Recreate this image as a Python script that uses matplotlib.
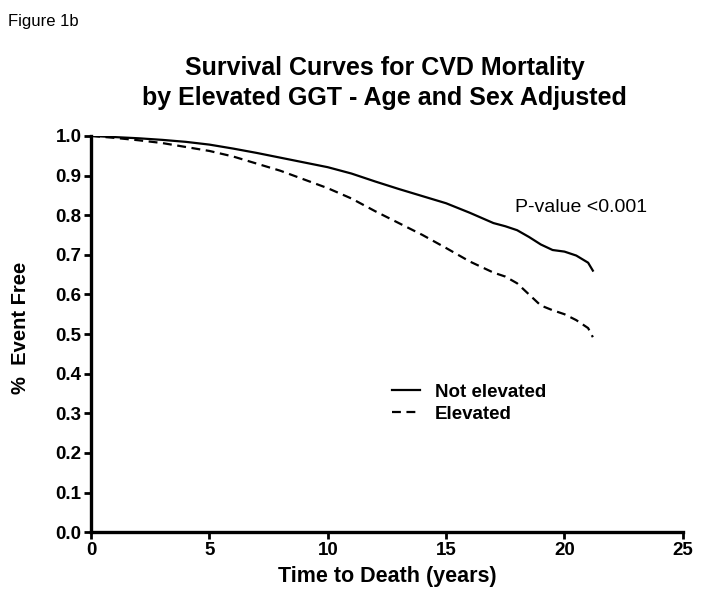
import matplotlib
matplotlib.use("Agg")
import matplotlib.pyplot as plt

plt.rcParams['font.family'] = ['Liberation Sans', 'DejaVu Sans']

# survival estimates
years = [0, 1, 2, 3, 4, 5, 6, 7, 8, 9, 10, 11, 12, 13, 14, 15, 16, 17,
         17.5, 18, 18.5, 19, 19.5, 20, 20.5, 21, 21.2]
not_elevated = [1.0, 0.997, 0.994, 0.990, 0.985, 0.978, 0.968, 0.957, 0.945,
                0.933, 0.921, 0.905, 0.885, 0.866, 0.848, 0.830, 0.806, 0.780,
                0.772, 0.762, 0.745, 0.726, 0.712, 0.708, 0.698, 0.680, 0.660]
elevated = [1.0, 0.995, 0.989, 0.982, 0.972, 0.962, 0.948, 0.930, 0.912,
            0.890, 0.868, 0.842, 0.810, 0.780, 0.750, 0.717, 0.683, 0.655,
            0.645, 0.628, 0.600, 0.572, 0.560, 0.550, 0.535, 0.515, 0.492]

fig = plt.figure(figsize=(7.01, 6.04), dpi=100)
ax = fig.add_axes([0.13, 0.119, 0.844, 0.656])

ax.plot(years, not_elevated, color='black', lw=1.6, label='Not elevated')
ax.plot(years, elevated, color='black', lw=1.6, dashes=(4, 2.5), label='Elevated')

ax.set_xlim(0, 25)
ax.set_ylim(0, 1.0)
ax.set_xticks([0, 5, 10, 15, 20, 25])
ax.set_yticks([i / 10 for i in range(11)])
ax.set_yticklabels(['%.1f' % (i / 10) for i in range(11)])

for s in ['top', 'right']:
    ax.spines[s].set_visible(False)
for s in ['left', 'bottom']:
    ax.spines[s].set_linewidth(2.4)
ax.tick_params(width=2, length=5, labelsize=13.5, pad=2)
for lab in ax.get_xticklabels() + ax.get_yticklabels():
    lab.set_fontweight('bold')

ax.set_xlabel('Time to Death (years)', fontsize=15.5, fontweight='bold', labelpad=5)
ax.set_ylabel('%  Event Free', fontsize=14.5, fontweight='bold')
ax.yaxis.set_label_coords(-0.103, 0.515)

fig.text(0.012, 0.965, 'Figure 1b', fontsize=12, va='center')
fig.text(0.549, 0.887, 'Survival Curves for CVD Mortality', fontsize=18,
         fontweight='bold', ha='center', va='center')
fig.text(0.549, 0.837, 'by Elevated GGT - Age and Sex Adjusted', fontsize=18,
         fontweight='bold', ha='center', va='center')

ax.text(17.9, 0.82, 'P-value <0.001', fontsize=14, va='center')

leg = ax.legend(loc='center left', bbox_to_anchor=(0.508, 0.325), frameon=False,
                prop={'weight': 'bold', 'size': 13.5}, handlelength=1.5,
                handletextpad=0.8, labelspacing=0.25, borderpad=0,
                borderaxespad=0)

fig.savefig('out.png', dpi=100)
